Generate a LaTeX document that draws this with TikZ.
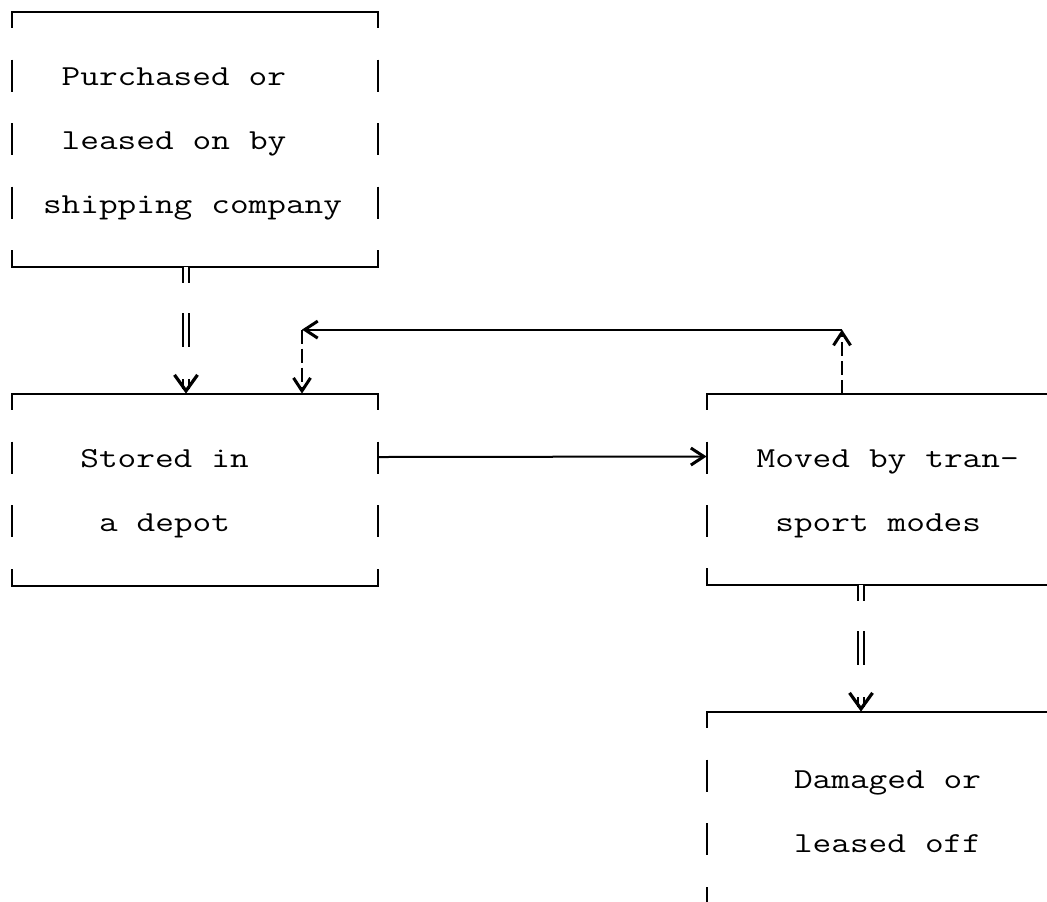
\documentclass[tikz,border=0pt]{standalone}
\usepackage{fontspec}
\setmonofont[FakeStretch=1.25]{Latin Modern Mono}
\usetikzlibrary{arrows.meta}

\begin{document}
\begin{tikzpicture}[x=0.5pt,y=-0.5pt,
		frame/.style={line width=1pt},
		box/.style={rectangle,inner xsep=15.5pt,inner ysep=0pt,text width=152pt,
			align=left,minimum height=#1,text height=13pt,
			font=\ttfamily\fontsize{14.5}{32}\selectfont,
			execute at begin node={\spaceskip=9.5pt\relax}},
		flow/.style={line width=1pt,-{Straight Barb[length=6.5pt,width=8.5pt,line width=1.5pt 0 0]}},
		broken/.style={flow,dash pattern=on 7pt off 2.5pt},
		pass/.style={double,line width=0.9pt,double distance=2pt,
			dash pattern=on 8pt off 15pt on 17pt off 16pt,
			-{Straight Barb[length=8pt,width=11.5pt,line width=1.6pt 0 0]}}]
		
		% page
		\useasboundingbox (0,0) rectangle (1047,901);
		\clip (0,0) rectangle (1047,901);
		
		% Boxes, text indented with spaces as on a typewriter
		\node[box=127.5pt] (buy) at (195,139.5)
		{\hphantom{x}Purchased or\\ \hphantom{x}leased on by\\ shipping company};
		\node[box=96pt] (depot) at (195,490)
		{\hphantom{xx}Stored in\\ \hphantom{xxx}a depot};
		\node[box=95.5pt] (move) at (890,489.5)
		{\hphantom{x}Moved by tran-\\ \hphantom{xx}sport modes};
		\node[box=96pt] (dmg) at (890,808)
		{\hphantom{xxx}Damaged or\\ \hphantom{xxx}leased off};
		
		% Box frames: full top and bottom, sides broken at each row
		\foreach \b/\n in {buy/3,depot/2,move/2,dmg/2}{
			\draw[frame] (\b.north west) ++(0,16) |- (\b.north east) -- ++(0,16);
			\draw[frame] (\b.south west) ++(0,-17) |- (\b.south east) -- ++(0,-17);
			\foreach \k in {1,...,\n}{
				\draw[frame] (\b.north west) ++(0,{48+63.5*(\k-1)}) -- ++(0,32);
				\draw[frame] (\b.north east) ++(0,{48+63.5*(\k-1)}) -- ++(0,32);
			}
		}
		
		% Forward flow
		\draw[pass] ([xshift=-4.5pt]buy.south) -- ([xshift=-4.5pt]depot.north);
		\draw[flow] ([yshift=16.5pt]depot.east) -- ([yshift=16.5pt]move.west);
		\draw[pass] ([xshift=-14.5pt]move.south) -- ([xshift=-14.5pt]dmg.north);
		
		% Return to the depot
		\coordinate (turnR) at ([xshift=-24pt,yshift=32pt]move.north);
		\coordinate (turnL) at ([xshift=53.5pt,yshift=32pt]depot.north);
		\draw[broken] ([xshift=-24pt]move.north) -- (turnR);
		\draw[flow] (turnR) -- (turnL);
		\draw[broken] (turnL) -- ([xshift=53.5pt]depot.north);
		
	\end{tikzpicture}
\end{document}
